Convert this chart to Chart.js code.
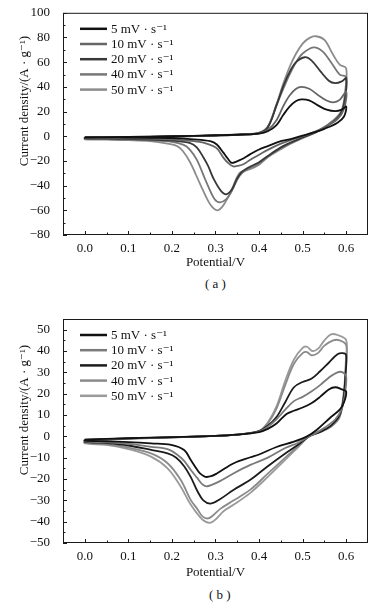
<!DOCTYPE html>
<html>
<head>
<meta charset="utf-8">
<title>CV curves</title>
<script src="https://cdn.jsdelivr.net/npm/chart.js@4.4.1/dist/chart.umd.min.js"></script>
<style>
    html, body { margin: 0; padding: 0; background: #fff; }
    body { width: 381px; height: 607px; position: relative; overflow: hidden; font-family: 'Liberation Serif', 'DejaVu Serif', serif; }
    .panel { position: absolute; left: 0; }
    .caption { position: absolute; font-size: 13px; color: #111; line-height: 16px; }
</style>
</head>
<body>
<div class="panel" style="top:0"><canvas id="chartA" width="381" height="275"></canvas></div>
<div class="caption" style="top:276px;left:205px">( a )</div>
<div class="panel" style="top:300px"><canvas id="chartB" width="381" height="280"></canvas></div>
<div class="caption" style="top:587px;left:209px">( b )</div>

<script>
// ---- Data ----
const scanRates = ['5 mV · s⁻¹', '10 mV · s⁻¹', '20 mV · s⁻¹', '40 mV · s⁻¹', '50 mV · s⁻¹'];
const xTicks = [0, 0.1, 0.2, 0.3, 0.4, 0.5, 0.6];
const yTicksA = [-80, -60, -40, -20, 0, 20, 40, 60, 80, 100];
const yTicksB = [-50, -40, -30, -20, -10, 0, 10, 20, 30, 40, 50];

// [potential V, current density A/g], anodic sweep then cathodic sweep
const cvA_5 = [
    [0, -0.8], [0.1, -0.5], [0.2, 0], [0.3, 0.8], [0.36, 1.4], [0.4, 2.2], [0.42, 4], [0.44, 9], [0.455, 17], [0.47, 24],
    [0.485, 28.5], [0.497, 29.8], [0.515, 29], [0.535, 25], [0.555, 21.5], [0.575, 20.3], [0.59, 21.5], [0.6, 24],
    [0.595, 16], [0.58, 11], [0.55, 6], [0.53, 3.5], [0.5, 0.5], [0.47, -2.5], [0.45, -4], [0.42, -8], [0.4, -10.7],
    [0.38, -14.5], [0.36, -18.7], [0.348, -20.5], [0.337, -21.5], [0.328, -18], [0.318, -13.3], [0.303, -6.7], [0.288, -4],
    [0.25, -2.5], [0.2, -1.5], [0.15, -1.2], [0.1, -1], [0.05, -0.9], [0, -1], [0, -0.8]
];
const cvA_10 = [
    [0, -1], [0.1, -0.6], [0.2, -0.1], [0.3, 0.7], [0.36, 1.4], [0.4, 2.4], [0.42, 5], [0.44, 13], [0.455, 24], [0.47, 33],
    [0.485, 38.5], [0.497, 40], [0.515, 38.5], [0.535, 33.5], [0.555, 29], [0.57, 27.5], [0.585, 29.5], [0.6, 36],
    [0.595, 22], [0.58, 14], [0.55, 7.5], [0.53, 4], [0.5, 0], [0.47, -3.5], [0.45, -6], [0.42, -11], [0.4, -15],
    [0.38, -19], [0.364, -22.7], [0.35, -24], [0.341, -24.5], [0.33, -22], [0.318, -17.3], [0.305, -10.5], [0.295, -8],
    [0.27, -5], [0.25, -4], [0.2, -2.5], [0.15, -2], [0.1, -1.6], [0.05, -1.4], [0, -1.3], [0, -1]
];
const cvA_20 = [
    [0, -1.2], [0.1, -0.7], [0.2, -0.2], [0.3, 0.6], [0.36, 1.3], [0.4, 2.5], [0.42, 7], [0.44, 25], [0.455, 40], [0.47, 52],
    [0.485, 60], [0.505, 64], [0.52, 61.5], [0.54, 53], [0.56, 45], [0.575, 43], [0.59, 44.5], [0.6, 47],
    [0.596, 28], [0.585, 17], [0.56, 9], [0.53, 3.5], [0.5, -1], [0.47, -5.5], [0.45, -9], [0.42, -16], [0.4, -21],
    [0.38, -24.5], [0.36, -29], [0.349, -34.7], [0.338, -43], [0.325, -47], [0.312, -44], [0.295, -34], [0.283, -24],
    [0.272, -17], [0.257, -9], [0.242, -5.5], [0.2, -3.5], [0.15, -2.7], [0.1, -2.2], [0.05, -1.9], [0, -1.7], [0, -1.2]
];
const cvA_40 = [
    [0, -1.4], [0.1, -0.8], [0.2, -0.2], [0.3, 0.6], [0.36, 1.4], [0.4, 2.8], [0.42, 7.5], [0.44, 25], [0.455, 38], [0.47, 50],
    [0.485, 60], [0.5, 67], [0.525, 72], [0.545, 69], [0.565, 60], [0.585, 50], [0.6, 48],
    [0.597, 30], [0.587, 18], [0.56, 9.5], [0.53, 3], [0.5, -1], [0.47, -6], [0.45, -9.5], [0.42, -16.5], [0.4, -22],
    [0.38, -25.5], [0.362, -29.5], [0.35, -35], [0.338, -44], [0.325, -51], [0.31, -53.5], [0.298, -51], [0.28, -38],
    [0.257, -19], [0.24, -10.5], [0.227, -7], [0.2, -4.5], [0.15, -3.3], [0.1, -2.7], [0.05, -2.3], [0, -2], [0, -1.4]
];
const cvA_50 = [
    [0, -1.5], [0.1, -0.9], [0.2, -0.2], [0.3, 0.6], [0.36, 1.5], [0.4, 3], [0.42, 8], [0.44, 26], [0.455, 42], [0.47, 56],
    [0.485, 67], [0.5, 75], [0.515, 79.5], [0.53, 81], [0.55, 78], [0.57, 66], [0.585, 58], [0.6, 55],
    [0.597, 35], [0.588, 20], [0.56, 10], [0.53, 3], [0.5, -1.5], [0.47, -6.5], [0.45, -10.5], [0.42, -17], [0.4, -23],
    [0.379, -26.7], [0.356, -29.5], [0.341, -40], [0.33, -48.5], [0.318, -56], [0.305, -60], [0.293, -57.5], [0.284, -53],
    [0.265, -39], [0.242, -21.3], [0.225, -12], [0.212, -8], [0.19, -6], [0.15, -4], [0.1, -3.2], [0.05, -2.8], [0, -2.5], [0, -1.5]
];

const cvB_5 = [
    [0, -1.5], [0.1, -0.9], [0.2, -0.4], [0.3, 0.2], [0.35, 0.8], [0.4, 2], [0.42, 3.5], [0.44, 6], [0.463, 10.5], [0.48, 12],
    [0.5, 13.5], [0.52, 15.5], [0.54, 18.5], [0.56, 22], [0.575, 23], [0.59, 22], [0.6, 21],
    [0.595, 16], [0.585, 12.5], [0.562, 8.5], [0.532, 3], [0.51, 0], [0.48, -2.5], [0.44, -5], [0.4, -8.5], [0.38, -9.8],
    [0.342, -12.6], [0.304, -17.3], [0.29, -18.7], [0.277, -19], [0.265, -17.5], [0.258, -15.7], [0.243, -11], [0.228, -6.4],
    [0.198, -4], [0.152, -3.3], [0.1, -2.7], [0.05, -2.3], [0, -2], [0, -1.5]
];
const cvB_10 = [
    [0, -1.6], [0.1, -1], [0.2, -0.4], [0.3, 0.2], [0.35, 0.8], [0.4, 2.2], [0.42, 4.5], [0.44, 8], [0.46, 12.5], [0.48, 16.5],
    [0.5, 18.5], [0.52, 21], [0.54, 24], [0.56, 27.5], [0.58, 30], [0.592, 30], [0.6, 28],
    [0.597, 20], [0.59, 13], [0.575, 8], [0.55, 4], [0.53, 1.5], [0.515, 0], [0.49, -3], [0.46, -5.5], [0.42, -10],
    [0.38, -13.4], [0.342, -17.3], [0.31, -21], [0.281, -23.4], [0.27, -22.5], [0.258, -19.5], [0.243, -15.7], [0.228, -11.5],
    [0.213, -8.7], [0.19, -6], [0.152, -4.9], [0.1, -3.5], [0.05, -2.8], [0, -2.3], [0, -1.6]
];
const cvB_20 = [
    [0, -1.7], [0.1, -1], [0.2, -0.5], [0.3, 0.2], [0.35, 0.8], [0.4, 2.5], [0.42, 5], [0.44, 9], [0.46, 16], [0.48, 23],
    [0.5, 25.5], [0.52, 27], [0.54, 30.5], [0.56, 34.5], [0.58, 38.5], [0.592, 39], [0.6, 38],
    [0.598, 28], [0.594, 18], [0.585, 10], [0.565, 5], [0.54, 2], [0.515, 0], [0.49, -3.8], [0.46, -8], [0.42, -14],
    [0.38, -20.4], [0.342, -25], [0.31, -29.5], [0.289, -31.5], [0.272, -30], [0.258, -25.5], [0.243, -19], [0.228, -14],
    [0.21, -10], [0.19, -8], [0.152, -6.4], [0.1, -4.3], [0.05, -3.2], [0, -2.6], [0, -1.7]
];
const cvB_40 = [
    [0, -1.8], [0.1, -1.1], [0.2, -0.5], [0.3, 0.2], [0.35, 0.8], [0.4, 2.5], [0.42, 6], [0.44, 13], [0.46, 24], [0.48, 34],
    [0.5, 39], [0.51, 39.5], [0.52, 38], [0.535, 39], [0.55, 42.5], [0.57, 45], [0.585, 45], [0.6, 42.7],
    [0.599, 32], [0.595, 20], [0.585, 9], [0.565, 4.5], [0.54, 2], [0.515, 0], [0.49, -4.5], [0.46, -10], [0.42, -17.5],
    [0.38, -25], [0.342, -30], [0.311, -34], [0.295, -37], [0.283, -38.5], [0.27, -37.5], [0.258, -34], [0.243, -29.8],
    [0.22, -20.4], [0.19, -12.6], [0.152, -8], [0.1, -5.3], [0.05, -3.8], [0, -3], [0, -1.8]
];
const cvB_50 = [
    [0, -1.9], [0.1, -1.1], [0.2, -0.5], [0.3, 0.2], [0.35, 0.8], [0.4, 2.5], [0.42, 6.5], [0.44, 14], [0.46, 26], [0.48, 36],
    [0.5, 41.5], [0.51, 42], [0.522, 40], [0.535, 41], [0.55, 45], [0.565, 47.8], [0.58, 47.5], [0.6, 45],
    [0.599, 35], [0.595, 22], [0.585, 10], [0.565, 5], [0.54, 2.5], [0.515, 0], [0.49, -5], [0.46, -11], [0.42, -19],
    [0.38, -26.5], [0.342, -32], [0.319, -35], [0.3, -39], [0.289, -40.5], [0.277, -40], [0.265, -38], [0.243, -32],
    [0.22, -23.5], [0.19, -15], [0.152, -9.5], [0.1, -6], [0.05, -4], [0, -3.3], [0, -1.9]
];

// ---- Styles ----
const colorsA = ['#111111', '#666666', '#383838', '#777777', '#8c8c8c'];
const colorsB = ['#111111', '#7a7a7a', '#1c1c1c', '#8a8a8a', '#9a9a9a'];
const FONT = "'Liberation Serif', 'DejaVu Serif', serif";
const Y_TITLE = 'Current density/(A · g⁻¹)';

// ---- Plugin: frame, inward ticks, legend, y title ----
const cvDecor = {
    id: 'cvDecor',
    afterDraw(chart, args, o) {
        const { ctx, chartArea: a, scales: { x, y } } = chart;
        const line = (x1, y1, x2, y2) => { ctx.beginPath(); ctx.moveTo(x1, y1); ctx.lineTo(x2, y2); ctx.stroke(); };
        const mids = arr => arr.slice(1).map((v, i) => (v + arr[i]) / 2);
        ctx.save();
        ctx.strokeStyle = '#1a1a1a';
        ctx.lineWidth = 1;
        ctx.strokeRect(a.left + 0.5, a.top + 0.5, a.right - a.left - 1, a.bottom - a.top - 1);

        xTicks.forEach(v => { const p = Math.round(x.getPixelForValue(v)) + 0.5; line(p, a.bottom, p, a.bottom - 4); });
        mids(xTicks).forEach(v => { const p = Math.round(x.getPixelForValue(v)) + 0.5; line(p, a.bottom, p, a.bottom - 2.5); });
        o.yTicks.forEach(v => { const p = Math.round(y.getPixelForValue(v)) + 0.5; line(a.left, p, a.left + 4, p); });
        mids(o.yTicks).forEach(v => { const p = Math.round(y.getPixelForValue(v)) + 0.5; line(a.left, p, a.left + 2.5, p); });

        // legend
        ctx.font = '13px ' + FONT;
        ctx.textBaseline = 'middle';
        chart.data.datasets.forEach((ds, i) => {
            const ly = a.top + 16 + i * 15.2;
            ctx.strokeStyle = ds.borderColor;
            ctx.lineWidth = 2.5;
            line(a.left + 17, ly, a.left + 44, ly);
            ctx.fillStyle = '#111';
            ctx.fillText(ds.label, a.left + 48, ly + 0.5);
        });

        // y axis title
        ctx.translate(o.titleX, o.titleY);
        ctx.rotate(-Math.PI / 2);
        ctx.textAlign = 'center';
        ctx.fillStyle = '#111';
        ctx.fillText(Y_TITLE, 0, 0);
        ctx.restore();
    }
};

function fmtTick(v) {
    return v < 0 ? '−' + Math.abs(v) : String(v);
}

function initCvChart(canvasId, series, colors, cfg) {
    const ctx = document.getElementById(canvasId);
    if (!ctx) return;
    return new Chart(ctx.getContext('2d'), {
        type: 'scatter',
        data: {
            datasets: series.map((s, i) => ({
                label: scanRates[i],
                data: s.map(([x, y]) => ({ x, y })),
                showLine: true,
                borderColor: colors[i],
                borderWidth: 1.8,
                pointRadius: 0,
                tension: 0.35,
                fill: false
            }))
        },
        options: {
            responsive: false,
            animation: false,
            layout: { padding: { top: cfg.top, right: 13, left: 0, bottom: 0 } },
            plugins: {
                legend: { display: false },
                tooltip: { enabled: false },
                cvDecor: { yTicks: cfg.yTicks, titleX: 25, titleY: cfg.titleY }
            },
            scales: {
                x: {
                    type: 'linear', min: -0.05, max: 0.65,
                    afterBuildTicks: s => { s.ticks = xTicks.map(v => ({ value: v })); },
                    afterFit: s => { s.height = cfg.xHeight; },
                    grid: { display: false }, border: { display: false },
                    ticks: { callback: v => v.toFixed(1), color: '#111', font: { family: FONT, size: 13 }, padding: cfg.tickPad, maxRotation: 0, autoSkip: false },
                    title: { display: true, text: 'Potential/V', color: '#111', font: { family: FONT, size: 13 }, padding: { top: 0, bottom: cfg.titlePad } }
                },
                y: {
                    type: 'linear', min: cfg.yMin, max: cfg.yMax,
                    afterBuildTicks: s => { s.ticks = cfg.yTicks.map(v => ({ value: v })); },
                    afterFit: s => { s.width = 63; },
                    grid: { display: false }, border: { display: false },
                    ticks: { callback: fmtTick, color: '#111', font: { family: FONT, size: 13 }, padding: 5, autoSkip: false }
                }
            }
        },
        plugins: [cvDecor]
    });
}

initCvChart('chartA', [cvA_5, cvA_10, cvA_20, cvA_40, cvA_50], colorsA,
    { top: 10, yMin: -80, yMax: 100, yTicks: yTicksA, xHeight: 40, tickPad: -2, titlePad: 5, titleY: 101 });
initCvChart('chartB', [cvB_5, cvB_10, cvB_20, cvB_40, cvB_50], colorsB,
    { top: 19, yMin: -50, yMax: 55, yTicks: yTicksB, xHeight: 37, tickPad: -2, titlePad: 0, titleY: 110 });
</script>
</body>
</html>
